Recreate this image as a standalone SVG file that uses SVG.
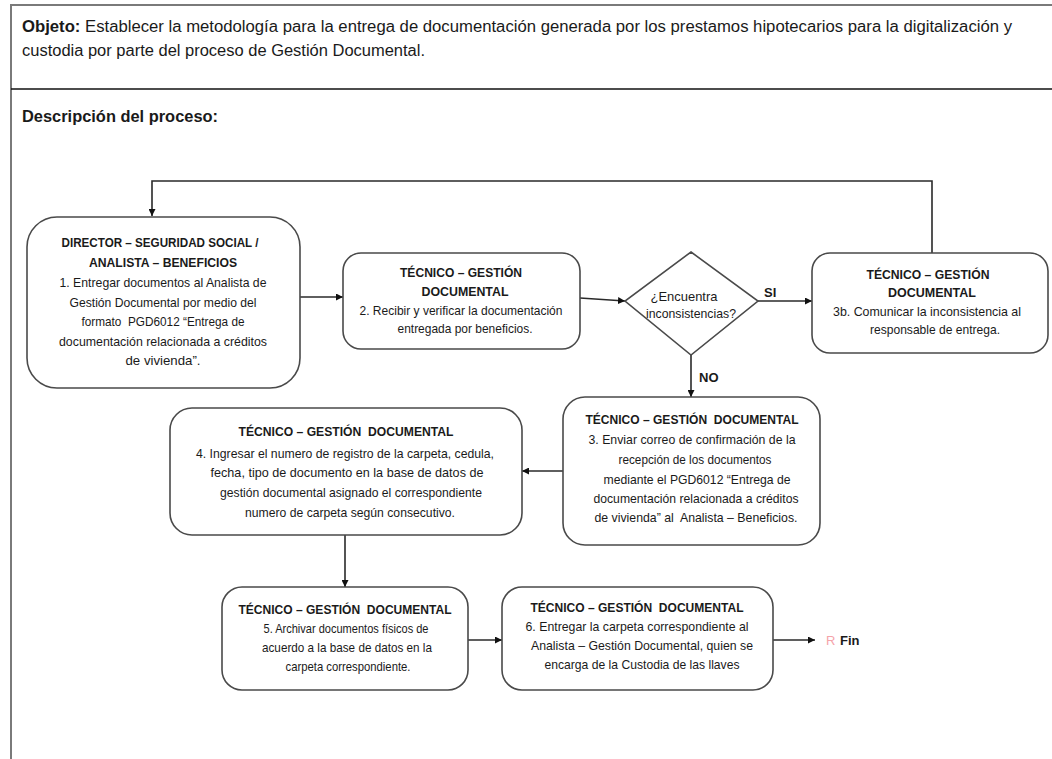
<svg xmlns="http://www.w3.org/2000/svg" width="1052" height="759" viewBox="0 0 1052 759">
  <style>
    .frame { stroke: #7a7a7a; stroke-width: 2; fill: none; }
    .divider { stroke: #111; stroke-width: 1.6; fill: none; }
    .box { fill: #fff; stroke: #4a4a4a; stroke-width: 1.6; }
    .dec { fill: #fff; stroke: #4a4a4a; stroke-width: 1.6; }
    .conn { stroke: #2a2a2a; stroke-width: 1.6; fill: none; }
    text { font-family: "Liberation Sans", Arial, sans-serif; fill: #1a1a1a; white-space: pre; }
    .hd { font-size: 16px; }
    .t { font-size: 13.5px; text-anchor: middle; }
    .b { font-weight: bold; }
    .lbl { font-size: 13px; font-weight: bold; }
    .mark { font-size: 13px; fill: #f5a3aa; }
  </style>
  <defs>
    <marker id="arrow" viewBox="0 0 10 10" refX="10" refY="5" markerWidth="7" markerHeight="7" orient="auto" markerUnits="userSpaceOnUse">
      <path d="M0,0 L10,5 L0,10 z" fill="#111"/>
    </marker>
  </defs>

  <rect width="1052" height="759" fill="#fff"/>

  <!-- page frame -->
  <g id="frame">
    <path class="frame" d="M11,759 V5 H1052"/>
    <path class="divider" d="M11,89 H1052"/>
    <text class="hd" x="22" y="32" textLength="990" lengthAdjust="spacingAndGlyphs"><tspan class="b">Objeto:</tspan> Establecer la metodología para la entrega de documentación generada por los prestamos hipotecarios para la digitalización y</text>
    <text class="hd" x="22" y="56" textLength="403" lengthAdjust="spacingAndGlyphs">custodia por parte del proceso de Gestión Documental.</text>
    <text class="hd b" x="22" y="122" textLength="196" lengthAdjust="spacingAndGlyphs">Descripción del proceso:</text>
  </g>

  <!-- connectors -->
  <g id="connectors">
    <path class="conn" d="M932,253 V181 H152 V216" marker-end="url(#arrow)"/>
    <path class="conn" d="M300,297 H343" marker-end="url(#arrow)"/>
    <path class="conn" d="M580,298 L625,301" marker-end="url(#arrow)"/>
    <path class="conn" d="M758,301 H812" marker-end="url(#arrow)"/>
    <path class="conn" d="M691,355 V397" marker-end="url(#arrow)"/>
    <path class="conn" d="M563,471 H522" marker-end="url(#arrow)"/>
    <path class="conn" d="M345,535 V587" marker-end="url(#arrow)"/>
    <path class="conn" d="M468,640 H502" marker-end="url(#arrow)"/>
    <path class="conn" d="M773,640 H815" marker-end="url(#arrow)"/>
    <text class="lbl" x="764" y="297">SI</text>
    <text class="lbl" x="699" y="382">NO</text>
  </g>

  <!-- 1 -->
  <g id="n1">
    <rect class="box" x="27" y="217" width="273" height="171" rx="30"/>
    <text class="t b" x="160" y="247" textLength="197" lengthAdjust="spacingAndGlyphs">DIRECTOR – SEGURIDAD SOCIAL /</text>
    <text class="t b" x="163" y="267" textLength="148" lengthAdjust="spacingAndGlyphs">ANALISTA – BENEFICIOS</text>
    <text class="t" x="163" y="287" textLength="207" lengthAdjust="spacingAndGlyphs">1. Entregar documentos al Analista de</text>
    <text class="t" x="163" y="307" textLength="187" lengthAdjust="spacingAndGlyphs">Gestión Documental por medio del</text>
    <text class="t" x="163" y="326" textLength="163" lengthAdjust="spacingAndGlyphs">formato  PGD6012 “Entrega de</text>
    <text class="t" x="163" y="346" textLength="208" lengthAdjust="spacingAndGlyphs">documentación relacionada a créditos</text>
    <text class="t" x="163" y="365" textLength="75" lengthAdjust="spacingAndGlyphs">de vivienda”.</text>
  </g>

  <!-- 2 -->
  <g id="n2">
    <rect class="box" x="343" y="253" width="237" height="96" rx="18"/>
    <text class="t b" x="461" y="277" textLength="122" lengthAdjust="spacingAndGlyphs">TÉCNICO – GESTIÓN</text>
    <text class="t b" x="465" y="296" textLength="87" lengthAdjust="spacingAndGlyphs">DOCUMENTAL</text>
    <text class="t" x="461" y="315" textLength="203" lengthAdjust="spacingAndGlyphs">2. Recibir y verificar la documentación</text>
    <text class="t" x="465" y="333" textLength="135" lengthAdjust="spacingAndGlyphs">entregada por beneficios.</text>
  </g>

  <!-- decision -->
  <g id="d1">
    <polygon class="dec" points="691,252 758,301 691,355 625,301"/>
    <text class="t" x="684" y="301" textLength="67" lengthAdjust="spacingAndGlyphs">¿Encuentra</text>
    <text class="t" x="691" y="318" textLength="90" lengthAdjust="spacingAndGlyphs">inconsistencias?</text>
  </g>

  <!-- 3b -->
  <g id="n3b">
    <rect class="box" x="812" y="253" width="236" height="100" rx="18"/>
    <text class="t b" x="928" y="279" textLength="123" lengthAdjust="spacingAndGlyphs">TÉCNICO – GESTIÓN</text>
    <text class="t b" x="932" y="297" textLength="88" lengthAdjust="spacingAndGlyphs">DOCUMENTAL</text>
    <text class="t" x="927" y="316" textLength="188" lengthAdjust="spacingAndGlyphs">3b. Comunicar la inconsistencia al</text>
    <text class="t" x="935" y="334" textLength="130" lengthAdjust="spacingAndGlyphs">responsable de entrega.</text>
  </g>

  <!-- 3 -->
  <g id="n3">
    <rect class="box" x="563" y="397" width="257" height="148" rx="22"/>
    <text class="t b" x="692" y="424" textLength="213" lengthAdjust="spacingAndGlyphs">TÉCNICO – GESTIÓN  DOCUMENTAL</text>
    <text class="t" x="692" y="444" textLength="207" lengthAdjust="spacingAndGlyphs">3. Enviar correo de confirmación de la</text>
    <text class="t" x="695" y="464" textLength="153" lengthAdjust="spacingAndGlyphs">recepción de los documentos</text>
    <text class="t" x="697" y="484" textLength="187" lengthAdjust="spacingAndGlyphs">mediante el PGD6012 “Entrega de</text>
    <text class="t" x="696" y="503" textLength="205" lengthAdjust="spacingAndGlyphs">documentación relacionada a créditos</text>
    <text class="t" x="696" y="522" textLength="203" lengthAdjust="spacingAndGlyphs">de vivienda” al  Analista – Beneficios.</text>
  </g>

  <!-- 4 -->
  <g id="n4">
    <rect class="box" x="170" y="408" width="352" height="127" rx="22"/>
    <text class="t b" x="346" y="436" textLength="215" lengthAdjust="spacingAndGlyphs">TÉCNICO – GESTIÓN  DOCUMENTAL</text>
    <text class="t" x="345" y="458" textLength="298" lengthAdjust="spacingAndGlyphs">4. Ingresar el numero de registro de la carpeta, cedula,</text>
    <text class="t" x="347" y="477" textLength="273" lengthAdjust="spacingAndGlyphs">fecha, tipo de documento en la base de datos de</text>
    <text class="t" x="351" y="497" textLength="262" lengthAdjust="spacingAndGlyphs">gestión documental asignado el correspondiente</text>
    <text class="t" x="350" y="517" textLength="210" lengthAdjust="spacingAndGlyphs">numero de carpeta según consecutivo.</text>
  </g>

  <!-- 5 -->
  <g id="n5">
    <rect class="box" x="222" y="587" width="246" height="103" rx="20"/>
    <text class="t b" x="345" y="614" textLength="213" lengthAdjust="spacingAndGlyphs">TÉCNICO – GESTIÓN  DOCUMENTAL</text>
    <text class="t" x="346" y="633" textLength="165" lengthAdjust="spacingAndGlyphs">5. Archivar documentos físicos de</text>
    <text class="t" x="347" y="652" textLength="170" lengthAdjust="spacingAndGlyphs">acuerdo a la base de datos en la</text>
    <text class="t" x="348" y="671" textLength="125" lengthAdjust="spacingAndGlyphs">carpeta correspondiente.</text>
  </g>

  <!-- 6 -->
  <g id="n6">
    <rect class="box" x="502" y="587" width="271" height="103" rx="20"/>
    <text class="t b" x="637" y="612" textLength="213" lengthAdjust="spacingAndGlyphs">TÉCNICO – GESTIÓN  DOCUMENTAL</text>
    <text class="t" x="637" y="631" textLength="223" lengthAdjust="spacingAndGlyphs">6. Entregar la carpeta correspondiente al</text>
    <text class="t" x="642" y="650" textLength="222" lengthAdjust="spacingAndGlyphs">Analista – Gestión Documental, quien se</text>
    <text class="t" x="642" y="669" textLength="195" lengthAdjust="spacingAndGlyphs">encarga de la Custodia de las llaves</text>
  </g>

  <!-- end -->
  <g id="fin">
    <text class="mark" x="826" y="645">R</text>
    <text class="lbl" x="840" y="645">Fin</text>
  </g>
</svg>
